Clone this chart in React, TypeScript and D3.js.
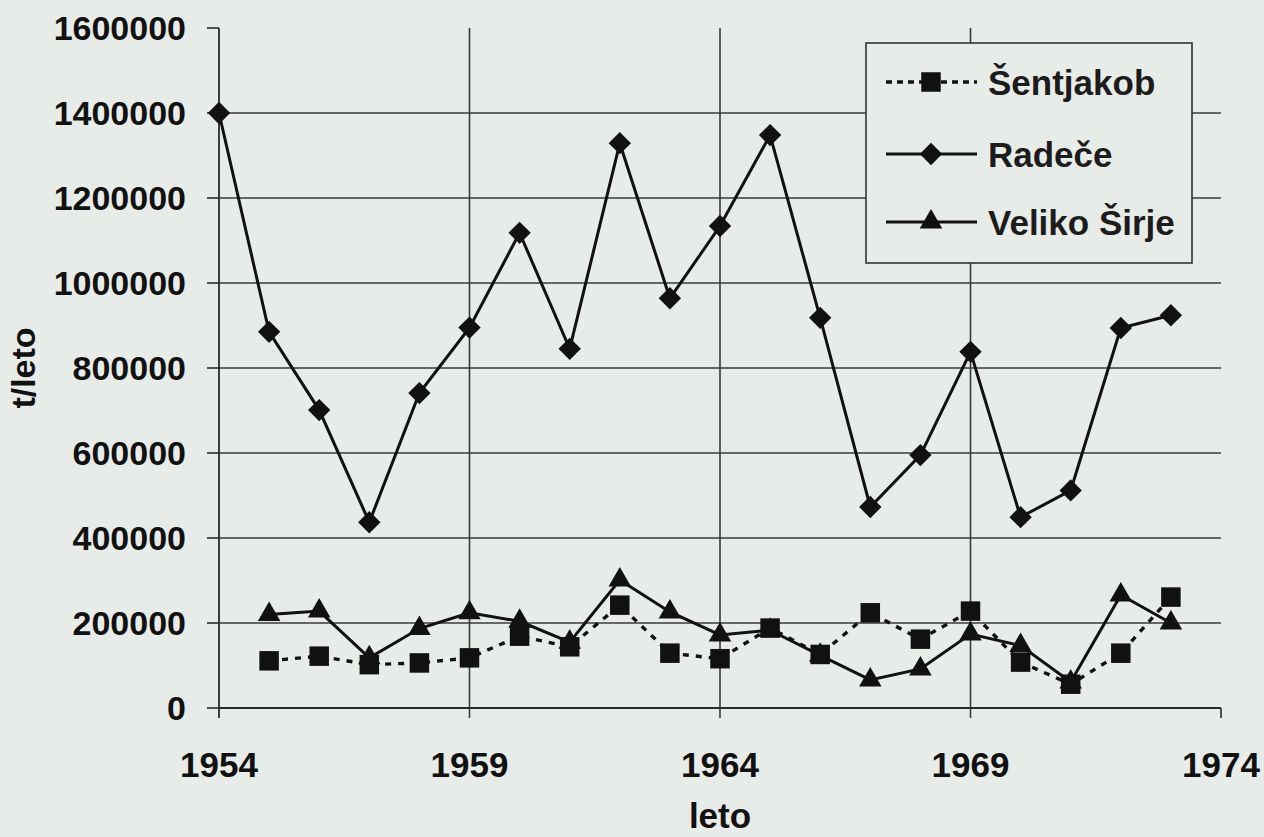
import React from "react";
import * as d3 from "d3";

const yearsAll = [1954, 1955, 1956, 1957, 1958, 1959, 1960, 1961, 1962, 1963, 1964, 1965, 1966, 1967, 1968, 1969, 1970, 1971, 1972, 1973];
const yearsLow = yearsAll.slice(1);

const radece = [1400000, 885000, 701000, 437000, 741000, 895000, 1118000, 845000, 1329000, 964000, 1134000, 1348000, 918000, 473000, 595000, 838000, 449000, 512000, 894000, 924000];
const sentjakob = [111000, 122000, 102000, 106000, 118000, 169000, 144000, 242000, 129000, 116000, 188000, 126000, 224000, 162000, 228000, 108000, 56000, 129000, 261000];
const velikoSirje = [220000, 228000, 118000, 187000, 224000, 204000, 155000, 301000, 226000, 172000, 183000, 124000, 66000, 92000, 174000, 147000, 61000, 266000, 200000];

const yTicks = [0, 200000, 400000, 600000, 800000, 1000000, 1200000, 1400000, 1600000];
const xTicks = [1954, 1959, 1964, 1969, 1974];
const legendNames = ["Šentjakob", "Radeče", "Veliko Širje"];

const W = 1264, H = 837;
const BG = "#e8ece8";
const INK = "#111111";
const FONT = "'Liberation Sans', Arial, sans-serif";

export default function App() {
  const x = d3.scaleLinear().domain([1954, 1974]).range([219, 1221]);
  const y = d3.scaleLinear().domain([0, 1600000]).range([708, 28]);

  const line = d3.line<[number, number]>().x(d => x(d[0])).y(d => y(d[1]));

  const rData = yearsAll.map((yr, i) => [yr, radece[i]] as [number, number]);
  const sData = yearsLow.map((yr, i) => [yr, sentjakob[i]] as [number, number]);
  const vData = yearsLow.map((yr, i) => [yr, velikoSirje[i]] as [number, number]);

  const diamond = d3.symbol().type(d3.symbolSquare).size(250)()!;
  const square = d3.symbol().type(d3.symbolSquare).size(380)()!;
  const triangle = d3.symbol().type(d3.symbolTriangle).size(220)()!;

  const lg = { x0: 866, y0: 43, x1: 1192, y1: 263 };
  const lgRows = [82, 154, 222];

  return (
    <svg width={W} height={H} style={{ position: "absolute", left: 0, top: 0, background: BG }} fontFamily={FONT}>
      <rect x={0} y={0} width={W} height={H} fill={BG} />
      {/* horizontal gridlines */}
      {yTicks.filter(t => t > 0 && t < 1600000).map(t => (
        <line key={"h" + t} x1={219} x2={1221} y1={y(t)} y2={y(t)} stroke="#3a3a3a" strokeWidth={1.6} />
      ))}
      {/* vertical gridlines */}
      {xTicks.filter(t => t > 1954 && t < 1974).map(t => (
        <line key={"v" + t} x1={x(t)} x2={x(t)} y1={28} y2={718} stroke="#3a3a3a" strokeWidth={1.6} />
      ))}
      {/* axes */}
      <line x1={219} x2={219} y1={28} y2={718} stroke="#2a2a2a" strokeWidth={1.8} />
      <line x1={219} x2={1221} y1={y(0)} y2={y(0)} stroke="#2a2a2a" strokeWidth={1.8} />
      <line x1={1221} x2={1221} y1={y(0)} y2={718} stroke="#2a2a2a" strokeWidth={1.6} />
      {yTicks.map(t => (
        <g key={"yt" + t}>
          <line x1={207} x2={219} y1={y(t)} y2={y(t)} stroke="#2a2a2a" strokeWidth={1.6} />
          <text x={186} y={y(t)} dy="0.36em" textAnchor="end" fontSize={34} fontWeight="bold" fill={INK}>{t}</text>
        </g>
      ))}
      {xTicks.map(t => (
        <text key={"xt" + t} x={x(t)} y={777} textAnchor="middle" fontSize={35} fontWeight="bold" fill={INK}>{t}</text>
      ))}
      <text x={720} y={828} textAnchor="middle" fontSize={35} fontWeight="bold" fill={INK}>leto</text>
      <text transform="translate(35,368) rotate(-90)" textAnchor="middle" fontSize={34} fontWeight="bold" fill={INK}>t/leto</text>

      {/* series */}
      <path d={line(rData)!} fill="none" stroke={INK} strokeWidth={3} />
      {rData.map((d, i) => (
        <path key={"r" + i} d={diamond} transform={`translate(${x(d[0])},${y(d[1])}) rotate(45)`} fill={INK} />
      ))}
      <path d={line(sData)!} fill="none" stroke={INK} strokeWidth={3.4} strokeDasharray="6,7" />
      {sData.map((d, i) => (
        <path key={"s" + i} d={square} transform={`translate(${x(d[0])},${y(d[1])})`} fill={INK} />
      ))}
      <path d={line(vData)!} fill="none" stroke={INK} strokeWidth={3} />
      {vData.map((d, i) => (
        <path key={"v" + i} d={triangle} transform={`translate(${x(d[0])},${y(d[1])})`} fill={INK} />
      ))}

      {/* legend */}
      <rect x={lg.x0} y={lg.y0} width={lg.x1 - lg.x0} height={lg.y1 - lg.y0} fill={BG} stroke="#333" strokeWidth={1.6} />
      <line x1={886} x2={977} y1={lgRows[0]} y2={lgRows[0]} stroke={INK} strokeWidth={3.4} strokeDasharray="6,5" />
      <path d={square} transform={`translate(931,${lgRows[0]})`} fill={INK} />
      <line x1={886} x2={977} y1={lgRows[1]} y2={lgRows[1]} stroke={INK} strokeWidth={3} />
      <path d={diamond} transform={`translate(931,${lgRows[1]}) rotate(45)`} fill={INK} />
      <line x1={886} x2={977} y1={lgRows[2]} y2={lgRows[2]} stroke={INK} strokeWidth={3} />
      <path d={triangle} transform={`translate(931,${lgRows[2]})`} fill={INK} />
      {legendNames.map((n, i) => (
        <text key={n} x={988} y={lgRows[i]} dy="0.36em" fontSize={35} fontWeight="bold" fill="#1c1c1c">{n}</text>
      ))}
    </svg>
  );
}
